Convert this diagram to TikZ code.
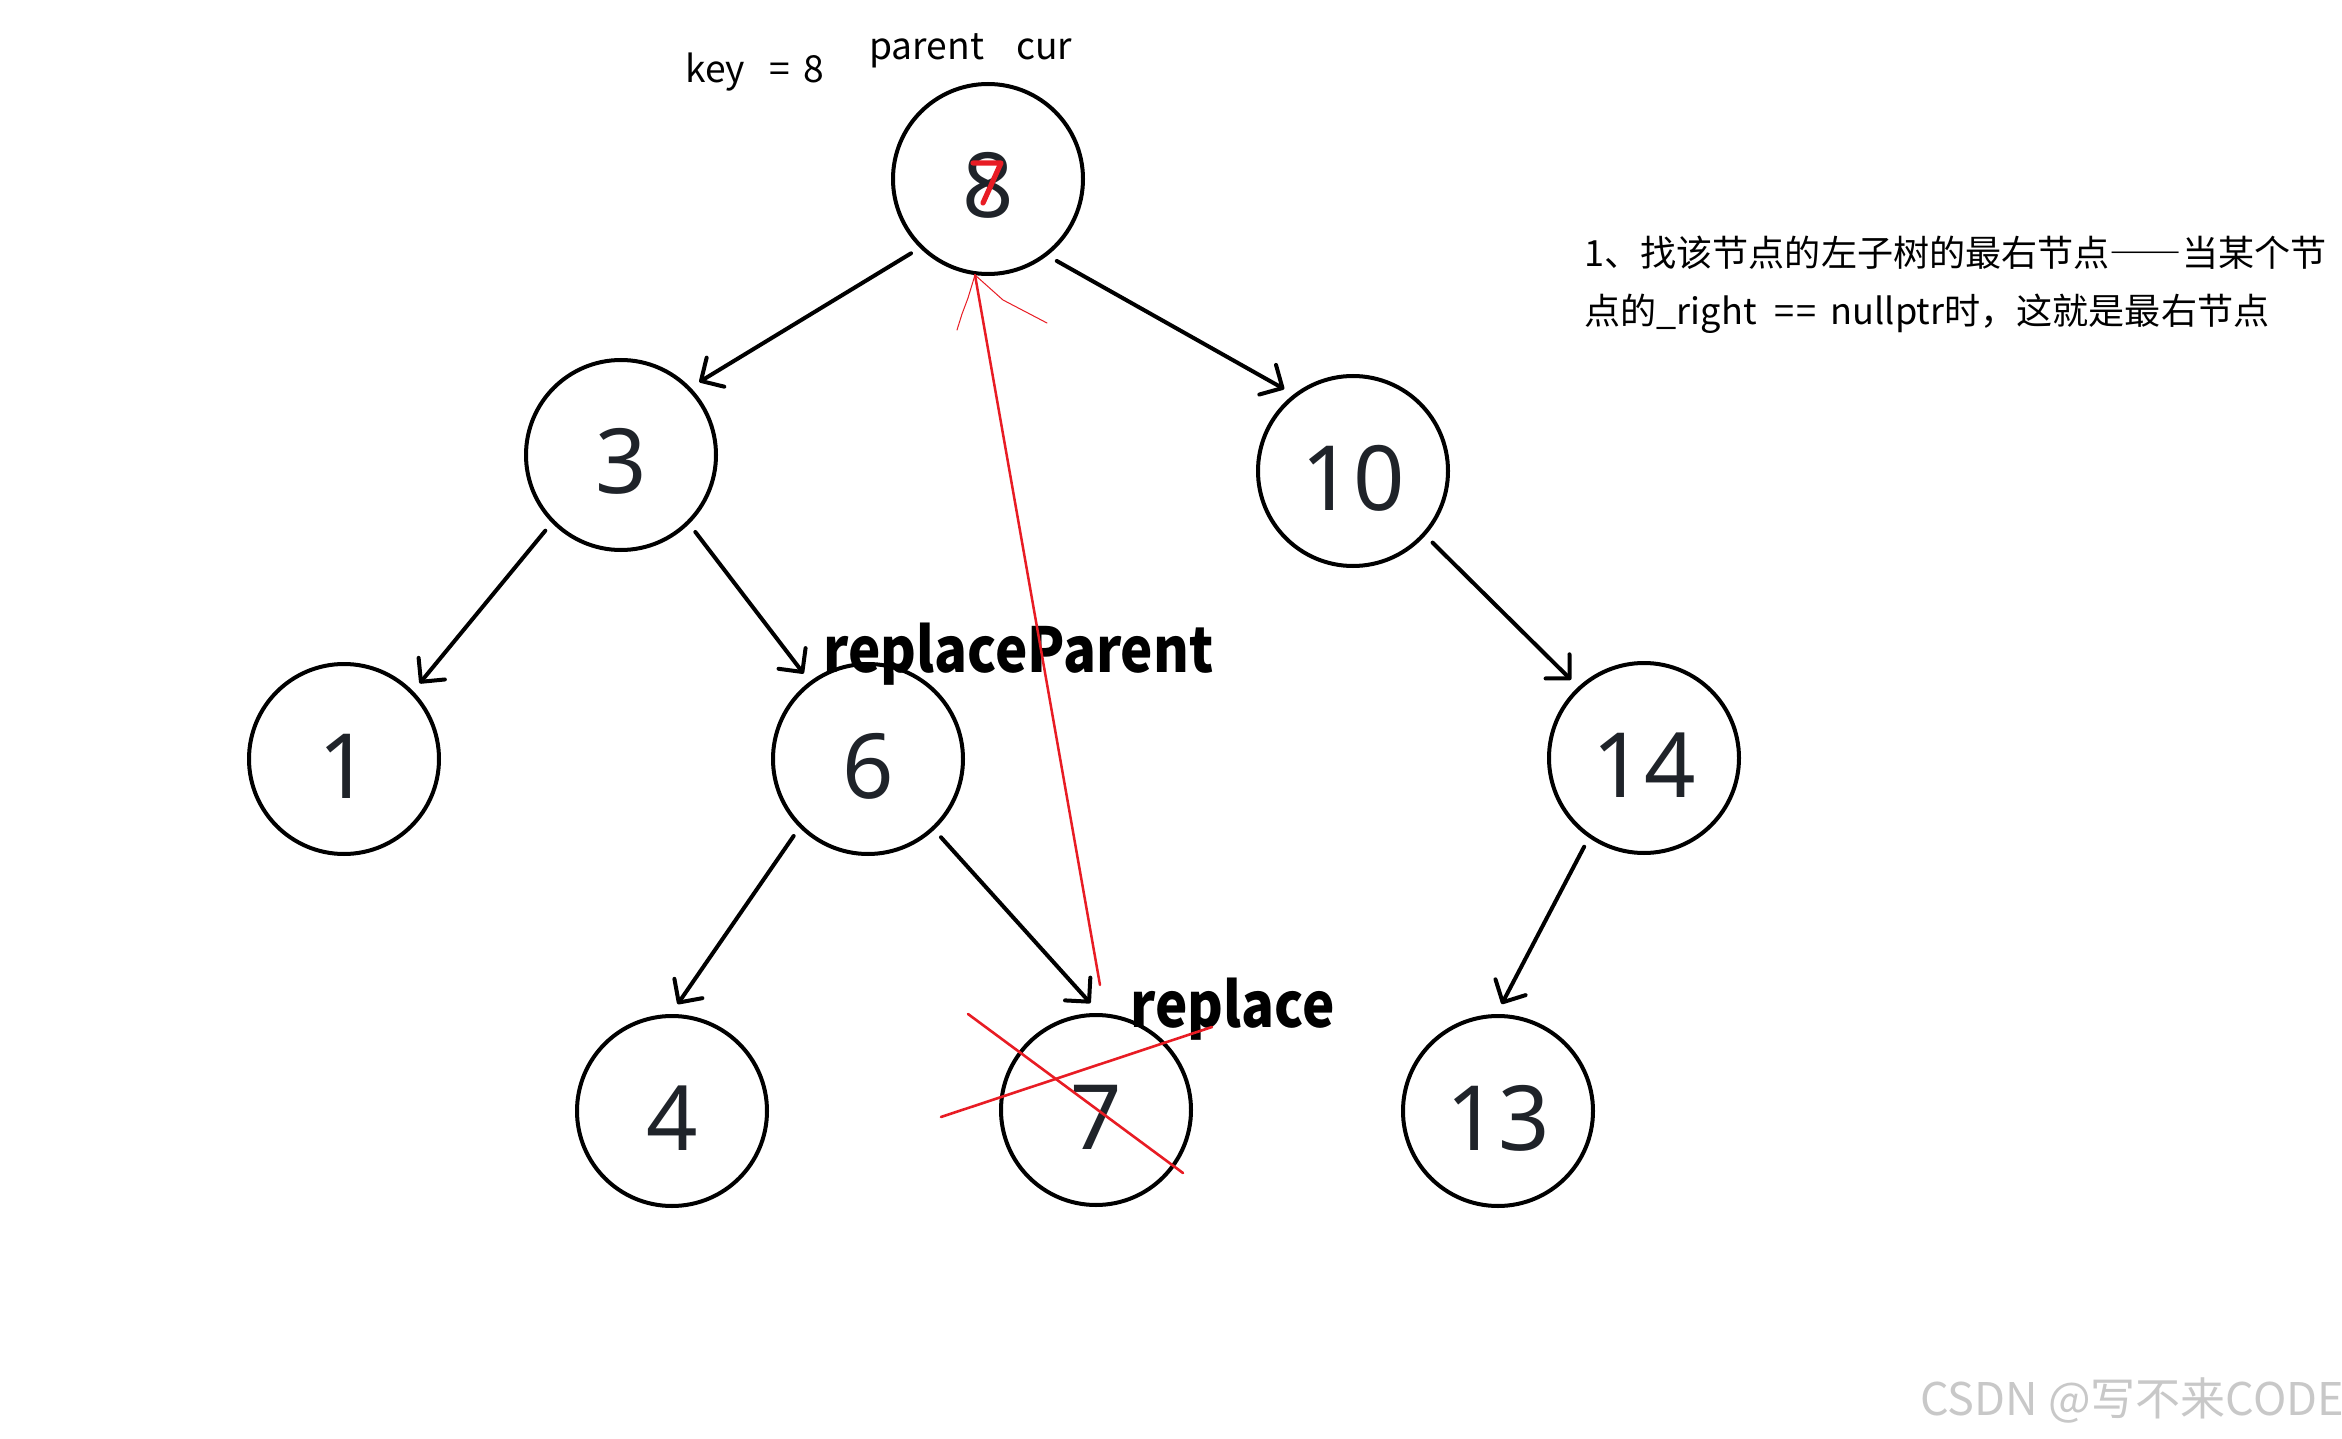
\documentclass[tikz,border=0pt]{standalone}
\usepackage{fontspec}
\setmainfont{Noto Sans}
\newfontfamily\cjk{Noto Sans CJK SC}
\usetikzlibrary{arrows.meta}
\definecolor{digit}{RGB}{31,35,41}
\definecolor{redmark}{RGB}{232,28,36}
\definecolor{wm}{RGB}{200,200,200}
\begin{document}
\begin{tikzpicture}[x=0.5pt,y=-0.5pt,
  treenode/.style={circle,draw,line width=2pt,minimum size=95pt,inner sep=0pt,outer sep=6pt,
    font=\fontsize{45}{45}\selectfont,text=digit,text height=39pt,text depth=0pt},
  edge/.style={line width=2pt,line cap=round,line join=round,
    -{Straight Barb[length=8.5pt,width=17pt,round]}},
  lbl/.style={anchor=base west,inner sep=0pt,font=\cjk\fontsize{18.6}{18.6}\selectfont},
  boldlbl/.style={anchor=base west,inner sep=0pt,font=\cjk\bfseries\fontsize{31}{31}\selectfont},
  redline/.style={draw=redmark,line cap=round,line join=round}]
\useasboundingbox[fill=white] (0,0) rectangle (2342,1439);

% tree nodes
\node[treenode] (n8)  at (988,179)   {8};
\node[treenode] (n3)  at (621,455)   {3};
\node[treenode] (n10) at (1353,471)  {10};
\node[treenode] (n1)  at (344,759)   {1};
\node[treenode] (n6)  at (868,759)   {6};
\node[treenode] (n14) at (1644,758)  {14};
\node[treenode] (n4)  at (672,1111)  {4};
\node[treenode] (n7)  at (1096,1110) {7};
\node[treenode] (n13) at (1498,1111) {13};

% edges
\draw[edge] (n8.224)  -- (n3.43);
\draw[edge] (n8.310)  -- (n10.130);
\draw[edge] (n3.225)  -- (n1.45);
\draw[edge] (n3.314)  -- (n6.127);
\draw[edge] (n10.318) -- (n14.133);
\draw[edge] (n6.226)  -- (n4.87);
\draw[edge] (n6.313)  -- (n7.93);
\draw[edge] (n14.236) -- (n13.88);

% labels
\node[lbl] (keylbl) at (685,83) {key\hspace{12pt}=\hspace{7pt}8};
\node[lbl] (pclbl) at (869,60) {parent\hspace{16pt}cur};
\node[boldlbl] (rplbl) at (823,672) {\scalebox{0.88}[1]{replaceParent}};
\node[boldlbl] (rlbl) at (1130,1027) {\scalebox{0.88}[1]{replace}};
\node[anchor=north west,inner sep=0pt,align=left,
      font=\cjk\fontsize{18.05}{29}\selectfont] (note) at (1584,236)
  {1、找该节点的左子树的最右节点{\addfontfeature{RawFeature=+fwid}——}当某个节\\点的\_right\hspace{9pt}=\hspace{1pt}=\hspace{7pt}nullptr时，这就是最右节点};
\node[anchor=base west,inner sep=0pt,text=wm,font=\cjk\fontsize{22.5}{22.5}\selectfont] (wmark) at (1920,1415)
  {CSDN @写不来CODE};

% red annotations
\coordinate (redtip) at (975,275);
\coordinate (redtail) at (1100,985);
\draw[redline,line width=1.25pt] (redtail) -- (redtip);
\draw[redline,line width=0.5pt] (redtip) -- (968,298) -- (962,314) -- (957,330);
\draw[redline,line width=0.5pt] (redtip) -- (1003,300) -- (1047,323);
\draw[redline,line width=2.6pt] (973,163) -- (1001,163) -- (983,203);
\draw[redline,line width=1.3pt] (968,1014) -- (1183,1173);
\draw[redline,line width=1.3pt] (941,1117) -- (1212,1027);
\end{tikzpicture}
\end{document}
